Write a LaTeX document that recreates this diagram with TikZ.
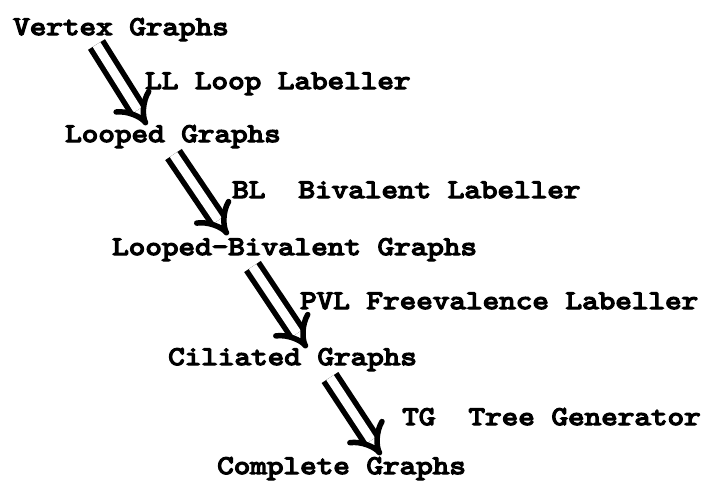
\documentclass[tikz,border=0pt]{standalone}
\usepackage{fontspec}
\usetikzlibrary{arrows.meta}
% machine à écrire grasse, un peu élargie
\newfontfamily\machine[FakeBold=5,FakeStretch=1.17]{lmmono10-regular.otf}
\tikzset{
	etiq/.style={anchor=base west,inner sep=0pt,font=\machine\fontsize{27}{32}\selectfont},
	derive/.style={double,double distance=9pt,line width=5.5pt,-{Implies}},
}
\begin{document}
\begin{tikzpicture}[x=1pt,y=-1pt]
		\useasboundingbox (0,0) rectangle (703,480);
		% familles de graphes (une ligne tous les ~55pt)
		\node[etiq] (VG) at (13,35) {Vertex Graphs};
		\node[etiq] (LG) at (65,142) {Looped Graphs};
		\node[etiq] (LBG) at (112,255) {Looped-Bivalent Graphs};
		\node[etiq] (CG) at (168,365) {Ciliated Graphs};
		\node[etiq] (CPG) at (217,474) {Complete Graphs};
		% étiqueteurs entre deux niveaux
		\node[etiq] (LL) at (145,89) {LL Loop Labeller};
		\node[etiq] (BL) at (232,198) {BL\ \ Bivalent Labeller};
		\node[etiq] (PVL) at (300,309) {PVL Freevalence Labeller};
		\node[etiq] (TG) at (402,425) {TG\ \ Tree Generator};
		% flèches doubles d'un niveau au suivant
		\draw[derive] ([shift={(83.5,9.5)}]VG.base west) -- ([shift={(82,-17)}]LG.base west);
		\draw[derive] ([shift={(108.5,12.5)}]LG.base west) -- ([shift={(116,-20)}]LBG.base west);
		\draw[derive] ([shift={(140.5,11.5)}]LBG.base west) -- ([shift={(139,-17)}]CG.base west);
		\draw[derive] ([shift={(162,12.5)}]CG.base west) -- ([shift={(164,-19)}]CPG.base west);
\end{tikzpicture}
\end{document}
